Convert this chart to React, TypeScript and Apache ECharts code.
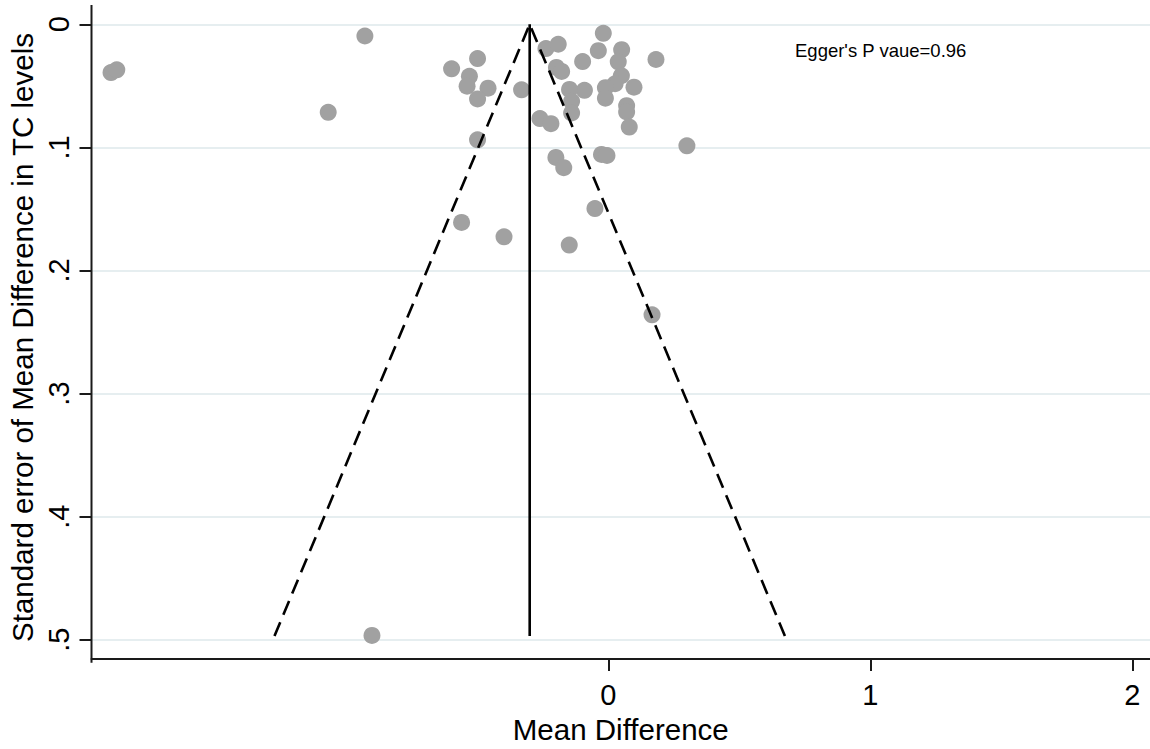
import React, { useEffect, useRef } from "react";
import * as echarts from "echarts";

// Study-level mean differences (x) and their standard errors (y)
const meanDiff = [
  -1.898, -1.876, -0.929, -1.069, -0.902, -0.598, -0.499, -0.53, -0.539, -0.459,
  -0.499, -0.331, -0.499, -0.56, -0.398, -0.238, -0.191, -0.198, -0.178, -0.261,
  -0.219, -0.019, -0.038, 0.051, 0.038, 0.182, -0.098, 0.05, 0.026, -0.011,
  0.098, -0.011, -0.091, -0.148, -0.14, -0.14, 0.07, 0.07, 0.08, 0.3,
  -0.2, -0.17, -0.026, -0.005, -0.051, -0.149, 0.167,
];
const stdErr = [
  0.0392, 0.037, 0.0095, 0.0715, 0.4965, 0.0362, 0.0278, 0.0422, 0.0503, 0.0519,
  0.0607, 0.0532, 0.0939, 0.161, 0.1727, 0.0197, 0.0162, 0.035, 0.0383, 0.0766,
  0.0807, 0.0073, 0.0214, 0.0206, 0.0305, 0.0286, 0.0303, 0.0418, 0.0483, 0.0515,
  0.0511, 0.06, 0.0536, 0.0529, 0.0626, 0.072, 0.0661, 0.0712, 0.0835, 0.0987,
  0.1082, 0.1165, 0.1057, 0.1066, 0.1497, 0.1794, 0.236,
];

// Pooled estimate and the largest standard error the pseudo 95% limits reach
const pooledMD = -0.3;
const seLimit = 0.497;

const xTicks = [0, 1, 2];
const yTicks = [0, 0.1, 0.2, 0.3, 0.4, 0.5];

const FONT = "Arial, 'Liberation Sans', Helvetica, sans-serif";
const AXIS_COLOR = "#1a1a1a";

export default function App() {
  const ref = useRef<HTMLDivElement>(null);

  useEffect(() => {
    if (!ref.current) return;
    const chart = echarts.init(ref.current, null, { renderer: "svg" });

    const points = meanDiff.map((m, i) => [m, stdErr[i]]);
    const lowerLimit = pooledMD - 1.96 * seLimit;
    const upperLimit = pooledMD + 1.96 * seLimit;

    chart.setOption({
      animation: false,
      backgroundColor: "#ffffff",
      grid: { left: 91.5, right: 0, top: 24.3, height: 618, containLabel: false },
      xAxis: {
        type: "value",
        min: -1.9725,
        max: 2.0676,
        position: "bottom",
        offset: 19.4,
        name: "Mean Difference",
        nameLocation: "middle",
        nameGap: 54,
        nameTextStyle: { fontSize: 29.5, color: "#000", fontFamily: FONT },
        axisLine: { show: true, onZero: false, lineStyle: { color: AXIS_COLOR, width: 2 } },
        axisTick: {
          show: true,
          length: 12,
          customValues: xTicks,
          lineStyle: { color: AXIS_COLOR, width: 2 },
        },
        axisLabel: {
          customValues: xTicks,
          fontSize: 29,
          color: "#000",
          fontFamily: FONT,
          margin: 21,
        },
        splitLine: { show: false },
      },
      yAxis: {
        type: "value",
        inverse: true,
        min: yTicks[0],
        max: yTicks[yTicks.length - 1],
        interval: 0.1,
        axisLine: { show: false, onZero: false },
        axisTick: { show: true, length: 12, lineStyle: { color: AXIS_COLOR, width: 2 } },
        axisLabel: {
          rotate: 90,
          fontSize: 29,
          color: "#000",
          fontFamily: FONT,
          margin: 18,
          formatter: (v: number) => (v === 0 ? "0" : "." + Math.round(v * 10)),
        },
        splitLine: { show: true, lineStyle: { color: "#e6eef0", width: 2 } },
      },
      graphic: [
        {
          type: "line",
          shape: { x1: 91.5, y1: 5, x2: 91.5, y2: 662.7 },
          style: { stroke: AXIS_COLOR, lineWidth: 2 },
          z: 10,
        },
        {
          type: "text",
          x: 22.5,
          y: 337.5,
          rotation: Math.PI / 2,
          style: {
            text: "Standard error of Mean Difference in TC levels",
            fontSize: 29.5,
            fontFamily: FONT,
            fill: "#000",
            align: "center",
            verticalAlign: "middle",
          },
        },
        {
          type: "text",
          x: 795,
          y: 50,
          style: {
            text: "Egger's P vaue=0.96",
            fontSize: 18.5,
            fontFamily: FONT,
            fill: "#000",
            align: "left",
            verticalAlign: "middle",
          },
        },
      ],
      series: [
        {
          type: "scatter",
          data: points,
          symbol: "circle",
          symbolSize: 17,
          itemStyle: { color: "#a1a1a1", opacity: 1 },
          z: 2,
        },
        {
          type: "line",
          data: [
            [lowerLimit, seLimit],
            [pooledMD, 0],
            [upperLimit, seLimit],
          ],
          symbol: "none",
          lineStyle: { color: "#000", width: 2.6, type: [15, 8], cap: "butt" },
          z: 3,
        },
        {
          type: "line",
          data: [
            [pooledMD, 0],
            [pooledMD, seLimit],
          ],
          symbol: "none",
          lineStyle: { color: "#000", width: 2.6, type: "solid" },
          z: 3,
        },
      ],
    });

    return () => chart.dispose();
  }, []);

  return (
    <div
      ref={ref}
      style={{ position: "absolute", left: 0, top: 0, width: 1150, height: 749 }}
    />
  );
}
